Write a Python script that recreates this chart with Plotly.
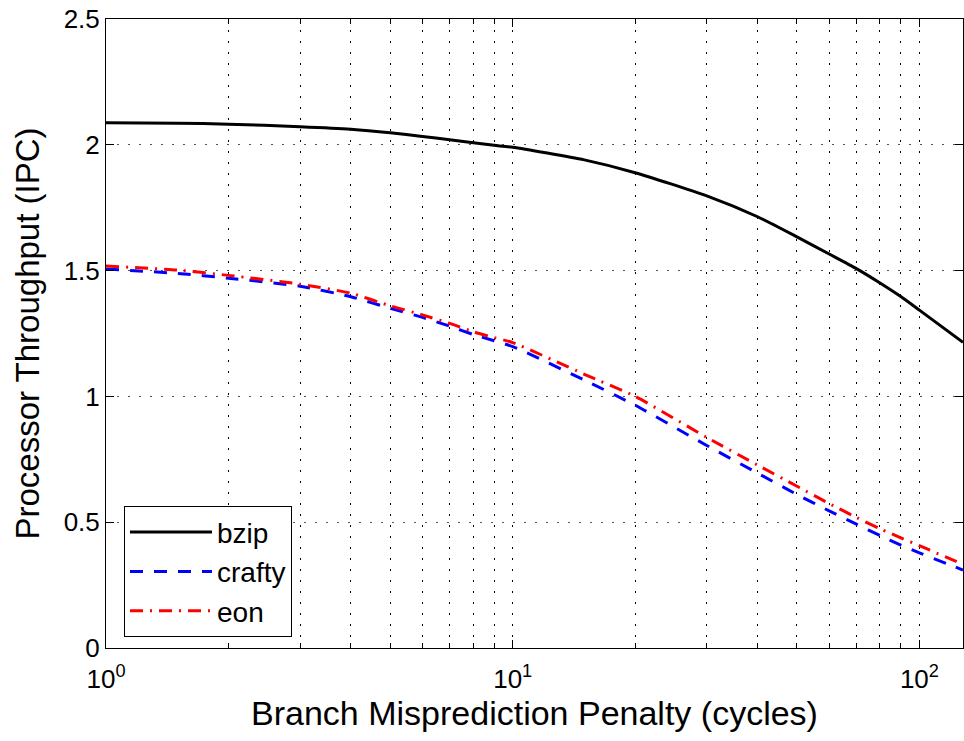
import plotly.graph_objects as go

# Branch misprediction penalty (cycles)
penalty = [1, 1.5, 2, 3, 4, 5, 6, 7, 8, 9, 10, 15, 20, 30, 40, 50, 60, 70, 80, 90, 100, 128]
# Processor throughput (IPC)
bzip = [2.088, 2.086, 2.082, 2.072, 2.062, 2.048, 2.033, 2.020, 2.008, 1.998, 1.99, 1.94,
        1.889, 1.797, 1.714, 1.634, 1.566, 1.508, 1.451, 1.397, 1.343, 1.215]
crafty = [1.506, 1.489, 1.470, 1.438, 1.396, 1.350, 1.314, 1.279, 1.246, 1.221, 1.198, 1.065,
          0.965, 0.805, 0.695, 0.610, 0.545, 0.492, 0.447, 0.409, 0.378, 0.310]
eon = [1.518, 1.502, 1.481, 1.446, 1.410, 1.360, 1.324, 1.290, 1.257, 1.234, 1.214, 1.088,
       1.000, 0.837, 0.727, 0.643, 0.574, 0.519, 0.474, 0.438, 0.407, 0.332]

x_tickvals = [1, 10, 100]
x_ticktext = ["10<sup>0</sup>", "10<sup>1</sup>", "10<sup>2</sup>"]
x_minorvals = [2, 3, 4, 5, 6, 7, 8, 9, 20, 30, 40, 50, 60, 70, 80, 90]
y_tickvals = [0, 0.5, 1, 1.5, 2, 2.5]
y_ticktext = ["0", "0.5", "1", "1.5", "2", "2.5"]

FONT = "Liberation Sans, Arial, Helvetica, sans-serif"
GRIDDASH = "2px,9px"

fig = go.Figure()
fig.add_trace(go.Scatter(x=penalty, y=bzip, mode="lines", name="bzip",
                         line=dict(color="black", width=3, shape="spline", smoothing=0.6)))
fig.add_trace(go.Scatter(x=penalty, y=crafty, mode="lines", name="crafty",
                         line=dict(color="#0000ff", width=3, dash="13px,11px",
                                   shape="spline", smoothing=0.6)))
fig.add_trace(go.Scatter(x=penalty, y=eon, mode="lines", name="eon",
                         line=dict(color="#ff0000", width=3, dash="13px,7px,2px,7px",
                                   shape="spline", smoothing=0.6)))

fig.update_layout(
    width=964, height=741,
    margin=dict(l=106, r=1, t=19, b=93),
    paper_bgcolor="white", plot_bgcolor="white",
    font=dict(family=FONT, color="black", size=26),
    showlegend=True,
    legend=dict(x=0.021, y=0.017, xanchor="left", yanchor="bottom",
                bgcolor="white", bordercolor="black", borderwidth=1,
                font=dict(size=28), itemwidth=82, tracegroupgap=0),
)

fig.update_xaxes(
    type="log", range=[0, 2.1072],
    tickvals=x_tickvals, ticktext=x_ticktext,
    title=dict(text="Branch Misprediction Penalty (cycles)", font=dict(size=34), standoff=4),
    ticks="inside", ticklen=8, tickcolor="black", tickwidth=1, ticklabelstandoff=8,
    showline=True, linecolor="black", linewidth=1, mirror="ticks",
    showgrid=True, gridcolor="black", griddash=GRIDDASH, gridwidth=1,
    minor=dict(tickvals=x_minorvals,
               ticks="inside", ticklen=5, tickcolor="black",
               showgrid=True, gridcolor="black", griddash=GRIDDASH, gridwidth=1),
    zeroline=False, tickfont=dict(size=26),
)
fig.update_yaxes(
    range=[0, 2.5],
    tickvals=y_tickvals, ticktext=y_ticktext,
    title=dict(text="Processor Throughput (IPC)", font=dict(size=33), standoff=14),
    ticks="inside", ticklen=8, tickcolor="black", tickwidth=1,
    showline=True, linecolor="black", linewidth=1, mirror="ticks",
    showgrid=True, gridcolor="#555555", griddash=GRIDDASH, gridwidth=1,
    zeroline=False, tickfont=dict(size=26),
)

fig.write_html("out.html")
